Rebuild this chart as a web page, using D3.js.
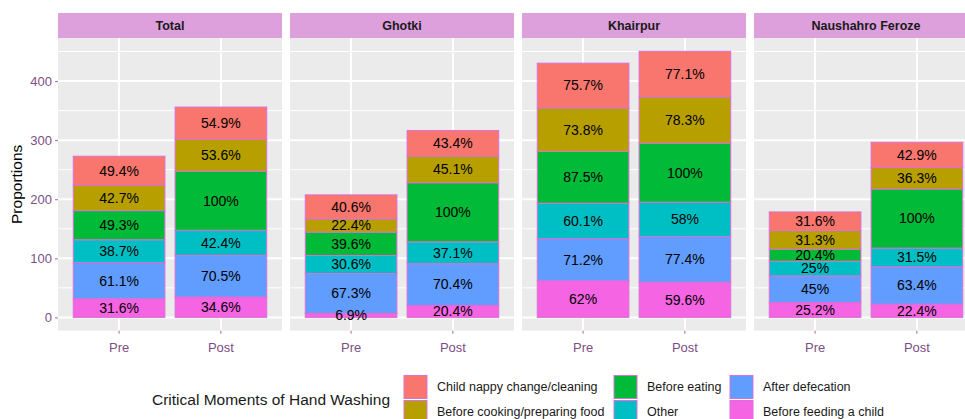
<!doctype html>
<html lang="en">
<head>
<meta charset="utf-8">
<script src="https://cdnjs.cloudflare.com/ajax/libs/d3/7.8.5/d3.min.js"></script>
<style>
  body { margin: 0; background: #fff; }
  svg { font-family: 'Liberation Sans', Arial, sans-serif; display: block; }
  .ytick text, .xtick { fill: #7d4f86; }
</style>
</head>
<body>
<script>
// facets, periods and moments (legend order = top of stack first)
const panels = ["Total", "Ghotki", "Khairpur", "Naushahro Feroze"];
const periods = ["Pre", "Post"];
const moments = ["Child nappy change/cleaning", "Before cooking/preparing food", "Before eating",
                 "Other", "After defecation", "Before feeding a child"];
const colors = ["#F8766D", "#B79F00", "#00BA38", "#00BFC4", "#619CFF", "#F564E3"];

// values per moment, order: Total Pre, Total Post, Ghotki Pre, Ghotki Post, Khairpur Pre, Khairpur Post, NF Pre, NF Post
const nappy      = [49.4, 54.9, 40.6, 43.4, 75.7, 77.1, 31.6, 42.9];
const cooking    = [42.7, 53.6, 22.4, 45.1, 73.8, 78.3, 31.3, 36.3];
const eating     = [49.3, 100, 39.6, 100, 87.5, 100, 20.4, 100];
const other      = [38.7, 42.4, 30.6, 37.1, 60.1, 58, 25, 31.5];
const defecation = [61.1, 70.5, 67.3, 70.4, 71.2, 77.4, 45, 63.4];
const feeding    = [31.6, 34.6, 6.9, 20.4, 62, 59.6, 25.2, 22.4];
const yTicks = [0, 100, 200, 300, 400];

const series = [nappy, cooking, eating, other, defecation, feeding];

// build rows
const rows = [];
panels.forEach((p, pi) => {
  periods.forEach((per, ei) => {
    const row = { panel: p, period: per };
    moments.forEach((m, mi) => { row[m] = series[mi][pi * 2 + ei]; });
    rows.push(row);
  });
});

const w = 965, h = 419;
const panelTop = 38, panelBottom = 330.7, stripTop = 13;

const svg = d3.select("body").append("svg").attr("width", w).attr("height", h);

const panelScale = d3.scaleBand().domain(panels).range([58, 978]).paddingInner(8 / 232);
const pw = panelScale.bandwidth();
const xScale = d3.scaleBand().domain(periods).range([0, pw]).paddingInner(0.1).paddingOuter(0.15);

const maxTotal = d3.max(rows, r => d3.sum(moments, m => r[m]));
const yScale = d3.scaleLinear()
  .domain([-maxTotal * 0.05, maxTotal * 1.05])
  .range([panelBottom, panelTop]);

// stack: first legend entry at the top, so stack keys in reverse
const stack = d3.stack().keys(moments.slice().reverse());
const color = d3.scaleOrdinal().domain(moments).range(colors);

panels.forEach(p => {
  const g = svg.append("g").attr("transform", "translate(" + panelScale(p) + ",0)");

  // panel background
  g.append("rect").attr("x", 0).attr("y", panelTop).attr("width", pw)
    .attr("height", panelBottom - panelTop).attr("fill", "#EBEBEB");

  // minor grid
  const minor = d3.range(50, yScale.domain()[1], 100);
  g.selectAll(".minor").data(minor).enter().append("line")
    .attr("x1", 0).attr("x2", pw)
    .attr("y1", d => yScale(d)).attr("y2", d => yScale(d))
    .attr("stroke", "#fff").attr("stroke-width", 1);

  // major grid
  g.selectAll(".major").data(yTicks).enter().append("line")
    .attr("x1", 0).attr("x2", pw)
    .attr("y1", d => yScale(d)).attr("y2", d => yScale(d))
    .attr("stroke", "#fff").attr("stroke-width", 2);

  g.selectAll(".vgrid").data(periods).enter().append("line")
    .attr("x1", d => xScale(d) + xScale.bandwidth() / 2)
    .attr("x2", d => xScale(d) + xScale.bandwidth() / 2)
    .attr("y1", panelTop).attr("y2", panelBottom)
    .attr("stroke", "#fff").attr("stroke-width", 2);

  // strip
  g.append("rect").attr("x", 0).attr("y", stripTop).attr("width", pw)
    .attr("height", panelTop - stripTop).attr("fill", "#DDA0DD");
  g.append("text").attr("x", pw / 2).attr("y", (stripTop + panelTop) / 2)
    .attr("dy", "0.35em").attr("text-anchor", "middle")
    .attr("font-size", "12.5px").attr("font-weight", "bold").attr("fill", "#1a1a1a")
    .text(p);

  // bars
  const data = rows.filter(r => r.panel === p);
  const stacked = stack(data);

  stacked.forEach(layer => {
    g.selectAll(null).data(layer).enter().append("rect")
      .attr("x", d => xScale(d.data.period))
      .attr("width", xScale.bandwidth())
      .attr("y", d => yScale(d[1]))
      .attr("height", d => yScale(d[0]) - yScale(d[1]))
      .attr("fill", color(layer.key))
      .attr("stroke", "#DA70D6").attr("stroke-width", 1);
  });

  stacked.forEach(layer => {
    g.selectAll(null).data(layer).enter().append("text")
      .attr("x", d => xScale(d.data.period) + xScale.bandwidth() / 2)
      .attr("y", d => yScale((d[0] + d[1]) / 2))
      .attr("dy", "0.35em").attr("text-anchor", "middle")
      .attr("font-size", "14px").attr("fill", "#000")
      .text(d => d.data[layer.key] + "%");
  });

  // x axis labels
  g.selectAll(".xtick").data(periods).enter().append("text")
    .attr("class", "xtick")
    .attr("x", d => xScale(d) + xScale.bandwidth() / 2)
    .attr("y", panelBottom + 12)
    .attr("dy", "0.75em").attr("text-anchor", "middle")
    .attr("font-size", "13px")
    .text(d => d);

  g.selectAll(".xt").data(periods).enter().append("line")
    .attr("x1", d => xScale(d) + xScale.bandwidth() / 2)
    .attr("x2", d => xScale(d) + xScale.bandwidth() / 2)
    .attr("y1", panelBottom).attr("y2", panelBottom + 3)
    .attr("stroke", "#b060b0");
});

// y axis
const yAxis = d3.axisLeft(yScale).tickValues(yTicks).tickSize(3).tickPadding(3);
const ya = svg.append("g").attr("transform", "translate(58,0)").call(yAxis);
ya.select(".domain").remove();
ya.selectAll(".tick line").attr("stroke", "#b060b0");
ya.selectAll(".tick text").attr("fill", "#7d4f86").attr("font-size", "13px")
  .attr("font-family", "'Liberation Sans', Arial, sans-serif");

// y title
svg.append("text")
  .attr("transform", "translate(17," + (panelTop + panelBottom) / 2 + ") rotate(-90)")
  .attr("text-anchor", "middle").attr("dy", "0.35em")
  .attr("font-size", "15.5px").attr("fill", "#000")
  .text("Proportions");

// legend
const legend = svg.append("g");
legend.append("text").attr("x", 152).attr("y", 400).attr("dy", "0.35em")
  .attr("font-size", "15.5px").attr("fill", "#1a1a1a")
  .text("Critical Moments of Hand Washing");

const colX = [404, 614, 730];
const rowY = [375.5, 400.5];
moments.forEach((m, i) => {
  const cx = colX[Math.floor(i / 2)], cy = rowY[i % 2];
  legend.append("rect").attr("x", cx).attr("y", cy).attr("width", 23).attr("height", 23)
    .attr("fill", color(m)).attr("stroke", "#DA70D6").attr("stroke-width", 1);
  legend.append("text").attr("x", cx + 33).attr("y", cy + 11.5).attr("dy", "0.35em")
    .attr("font-size", "12.5px").attr("fill", "#1a1a1a")
    .text(m);
});
</script>
</body>
</html>
